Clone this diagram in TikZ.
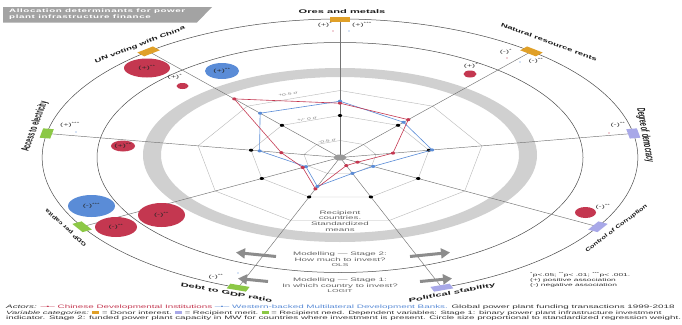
\documentclass[tikz,border=0pt]{standalone}
\usepackage{fontspec}
\setmainfont{Liberation Sans}[FakeStretch=2.0]
% bold label faces, widened to suit the direction each label runs in
\newfontfamily\lblwide{Liberation Sans}[FakeStretch=2.1]
\newfontfamily\lblmid{Liberation Sans}[FakeStretch=1.8]
\newfontfamily\lblnarrow{Liberation Sans}[FakeStretch=1.4]
\newfontfamily\lblplain{Liberation Sans}
\newfontfamily\titlefont{Liberation Sans}[FakeStretch=2.0, LetterSpace=12]
\usetikzlibrary{arrows.meta,shapes.geometric}

\definecolor{cred}{HTML}{C43750}
\definecolor{cblue}{HTML}{5A8CD7}
\definecolor{cgold}{HTML}{E0A028}
\definecolor{cmerit}{HTML}{A8A8E8}
\definecolor{cneed}{HTML}{8CC846}
\definecolor{ringfill}{HTML}{D0D0D0}
\definecolor{titlegray}{HTML}{A3A3A3}
\definecolor{txt}{HTML}{333333}

\tikzset{
  ringline/.style={draw=black!70, line width=0.5pt},
  spoke/.style={draw=black!55, line width=0.45pt},
  gridline/.style={draw=black!28, line width=0.4pt},
  sig/.style={font=\fontsize{4.6}{5}\selectfont, text=txt, inner sep=0},
  bub/.style={ellipse, inner sep=0, font=\fontsize{4.6}{5}\selectfont, text=black!85},
  axlabel/.style={inner sep=0, text=black!90},
  axsize/.style={font=#1\bfseries\fontsize{5.3}{6}\selectfont},
  marker/.style={rectangle, minimum width=9.5pt, minimum height=5pt, inner sep=0, transform shape},
  centertext/.style={align=center, inner sep=0, text=black!62, font=\fontsize{4.9}{5.6}\selectfont},
  stagearrow/.style={draw=black!45, line width=3pt, -{Triangle[length=9pt, width=10pt]}},
  sigma/.style={font=\fontsize{3.4}{4}\selectfont, text=black!50, inner sep=0},
  caption/.style={anchor=west, inner sep=0, text=txt, font=\fontsize{#1}{5.5}\selectfont},
}

\begin{document}
\begin{tikzpicture}[x=1pt,y=-1pt]
\useasboundingbox[fill=white] (0,0) rectangle (682,324);

% title banner
\fill[titlegray] (3,7) -- (212,7) -- (197,22.5) -- (3,22.5) -- cycle;
\node[anchor=north west, text=white, align=left, inner sep=0,
      font=\titlefont\bfseries\fontsize{4.9}{5.6}\selectfont] (title) at (9,9.2)
      {Allocation determinants for power\\plant infrastructure finance};

% inner band boundary
\draw[ringline] (340,157.5) ellipse [x radius=243pt, y radius=115pt];

% grey ring
\fill[ringfill, even odd rule] (340,155) ellipse [x radius=197pt, y radius=87pt]
                               (340,155) ellipse [x radius=179pt, y radius=78pt];

\begin{scope}[shift={(340,157.5)}, x=1pt, y=1pt, xscale=2.15]
  \coordinate (c) at (0,0);
  \foreach \a/\n in {90/ores,50/nrr,10/dod,-30/coc,-70/ps,-110/debt,-150/gdp,170/acc,130/un}{
    \coordinate (p\n) at (\a:138.5);
    \coordinate (z\n) at (\a:42);
  }
  % radar grid levels (-0.5, 0, +0.5 sigma)
  \foreach \r in {17,42,67}
    \draw[gridline] (90:\r) -- (50:\r) -- (10:\r) -- (-30:\r) -- (-70:\r)
      -- (-110:\r) -- (-150:\r) -- (170:\r) -- (130:\r) -- cycle;
  % spokes
  \foreach \n in {ores,nrr,dod,coc,ps,debt,gdp,acc,un}
    \draw[spoke] (c) -- (p\n);
  % outer boundary, open at the bottom
  \draw[ringline] (-68:138.5) arc[start angle=-68, end angle=248, radius=138.5];
  % data
  \foreach \a/\rr/\rb [count=\i] in {90/54.3/56.3, 50/49.4/46, 10/25/43.5, -30/9.4/17.8,
      -70/8.6/16.9, -110/33.4/30.8, -150/20/18.3, 170/27.7/38, 130/76.5/57.8}{
    \coordinate (r\i) at (\a:\rr);
    \coordinate (b\i) at (\a:\rb);
  }
  % category markers
  \node[marker, fill=cgold] (mores) at (pores) {};
  \node[marker, fill=cgold, rotate=-40] (mnrr) at (pnrr) {};
  \node[marker, fill=cmerit, rotate=-80] (mdod) at (pdod) {};
  \node[marker, fill=cmerit, rotate=60] (mcoc) at (pcoc) {};
  \node[marker, fill=cmerit, rotate=20] (mps) at (pps) {};
  \node[marker, fill=cneed, rotate=-20] (mdebt) at (pdebt) {};
  \node[marker, fill=cneed, rotate=-60] (mgdp) at (pgdp) {};
  \node[marker, fill=cneed, rotate=80] (macc) at (pacc) {};
  \node[marker, fill=cgold, rotate=40] (mun) at (pun) {};
\end{scope}

% variable names
\node[axlabel, axsize=\lblwide] (lores) at (342,11.5) {Ores and metals};
\node[axlabel, axsize=\lblmid, rotate=-20] (lnrr) at (549,42) {Natural resource rents};
\begin{scope}[shift={(645,135)}, x=1pt, y=1pt, xscale=2.15]
  \node[axlabel, axsize=\lblplain, rotate=-85, transform shape] (ldod) at (0,0) {Degree of democracy};
\end{scope}
\node[axlabel, axsize=\lblnarrow, rotate=37] (lcoc) at (616.5,228.5) {Control of Corruption};
\node[axlabel, axsize=\lblwide, rotate=10.5] (lps) at (452,293) {Political stability};
\node[axlabel, axsize=\lblwide, rotate=-10] (ldebt) at (226.5,292.5) {Debt to GDP ratio};
\node[axlabel, axsize=\lblnarrow, rotate=138] (lgdp) at (66,228) {GDP per capita};
\begin{scope}[shift={(35,126.5)}, x=1pt, y=1pt, xscale=2.15]
  \node[axlabel, axsize=\lblplain, rotate=80, transform shape] (lacc) at (0,0) {Access to electricity};
\end{scope}
\node[axlabel, axsize=\lblmid, rotate=21] (lun) at (140,45) {UN voting with China};

% reference dots at 0 sigma
\foreach \n in {ores,nrr,dod,coc,ps,debt,gdp,acc,un}
  \fill[black] (z\n) ellipse [x radius=2.2pt, y radius=1.5pt];

% data polygons
\draw[cblue, line width=0.6pt] (b1) -- (b2) -- (b3) -- (b4) -- (b5) -- (b6) -- (b7) -- (b8) -- (b9) -- cycle;
\draw[cred, line width=0.6pt] (r1) -- (r2) -- (r3) -- (r4) -- (r5) -- (r6) -- (r7) -- (r8) -- (r9) -- cycle;
\foreach \i in {1,...,9}{
  \fill[cblue] (b\i) ellipse [x radius=2.1pt, y radius=1.5pt];
  \fill[cred] (r\i) ellipse [x radius=2.1pt, y radius=1.5pt];
}
\fill[black!40] (c) ellipse [x radius=6.5pt, y radius=3pt];

% sigma levels
\node[sigma, rotate=9.6] (s1) at (288,94) {+0.5 σ};
\node[sigma, rotate=9.6] (s2) at (307,119) {+/- 0 σ};
\node[sigma, rotate=9.6] (s3) at (327,141) {-0.5 σ};

% regression weights: Ores and metals
\node[sig] (o1) at (325,25) {(+)\textsuperscript{*}};
\node[sig] (o2) at (362,25) {(+)\textsuperscript{***}};
\fill[cred] (333,31) circle [radius=0.7pt];
\fill[cblue] (349,31) circle [radius=0.7pt];
% Natural resource rents
\node[sig] (n1) at (506,52) {(-)\textsuperscript{*}};
\fill[cred] (507,58) circle [radius=0.7pt];
\node[sig] (n2) at (536,61) {(-)\textsuperscript{**}};
\fill[cblue] (520,62) circle [radius=0.7pt];
\node[sig] (n3) at (471,66) {(+)\textsuperscript{*}};
\node[bub, fill=cred, minimum width=13pt, minimum height=7pt] (n4) at (470,74) {};
% Degree of democracy
\node[sig] (d1) at (618,125) {(-)\textsuperscript{**}};
\fill[cred] (609,133) circle [radius=0.7pt];
% Control of corruption
\node[bub, fill=cred, minimum width=21pt, minimum height=11pt] (k1) at (585.5,212.5) {};
\node[sig] (k2) at (603,207) {(-)\textsuperscript{**}};
% Debt to GDP ratio
\node[sig] (e1) at (216,277) {(-)\textsuperscript{**}};
\fill[cblue] (238,273) circle [radius=0.7pt];
% GDP per capita
\node[bub, fill=cblue, minimum width=47pt, minimum height=22pt] (g1) at (91.5,206) {(-)\textsuperscript{***}};
\node[bub, fill=cred, minimum width=42pt, minimum height=20pt] (g2) at (116,227) {(-)\textsuperscript{**}};
\node[bub, fill=cred, minimum width=47pt, minimum height=24pt] (g3) at (161.5,215) {(-)\textsuperscript{**}};
% Access to electricity
\node[sig] (a1) at (70,125) {(+)\textsuperscript{***}};
\fill[cblue] (76,132) circle [radius=0.7pt];
\node[bub, fill=cred, minimum width=24pt, minimum height=11pt] (a2) at (123,146) {(+)\textsuperscript{**}};
% UN voting with China
\node[bub, fill=cred, minimum width=46pt, minimum height=19pt] (u1) at (147,68) {(+)\textsuperscript{**}};
\node[sig] (u2) at (175,77) {(+)\textsuperscript{*}};
\node[bub, fill=cred, minimum width=12pt, minimum height=6pt] (u3) at (182.5,86) {};
\node[bub, fill=cblue, minimum width=34pt, minimum height=16pt] (u4) at (222,71) {(+)\textsuperscript{**}};

% centre texts
\node[centertext] (recip) at (340,221) {Recipient\\countries.\\Standardized\\means};
\node[centertext] (stage2) at (340,259.5) {Modelling — Stage 2:\\How much to invest?\\{\fontsize{4.2}{5}\selectfont OLS}};
\node[centertext] (stage1) at (340,285.5) {Modelling — Stage 1:\\In which country to invest?\\{\fontsize{4.2}{5}\selectfont LOGIT}};

% stage arrows
\coordinate (s2La) at (276,256.5); \coordinate (s2Lb) at (236,252.5);
\coordinate (s2Ra) at (410,256.5); \coordinate (s2Rb) at (450,252.5);
\coordinate (s1La) at (268,281.5); \coordinate (s1Lb) at (238,278.5);
\coordinate (s1Ra) at (420,281.5); \coordinate (s1Rb) at (452,278.5);
\draw[stagearrow] (s2La) -- (s2Lb);
\draw[stagearrow] (s2Ra) -- (s2Rb);
\draw[stagearrow] (s1La) -- (s1Lb);
\draw[stagearrow] (s1Ra) -- (s1Rb);

% significance legend
\node[anchor=north west, align=left, inner sep=0, text=txt, font=\fontsize{4.2}{5}\selectfont] (legend) at (530,272.5)
  {\textsuperscript{*}p<.05; \textsuperscript{**}p< .01; \textsuperscript{***}p< .001.\\(+) positive association\\(-) negative association};

% caption
\node[caption=4.93] (cap1) at (6,307.3) {{\itshape Actors:} \textcolor{cred}{–•– Chinese Developmental Institutions} \textcolor{cblue}{–•– Western-backed Multilateral Development Banks.} Global power plant funding transactions 1999-2018};
\node[caption=4.7] (cap2) at (6,313) {{\itshape Variable categories:} \textcolor{cgold}{\rule{7pt}{3.5pt}} = Donor interest. \textcolor{cmerit}{\rule{7pt}{3.5pt}} = Recipient merit. \textcolor{cneed}{\rule{7pt}{3.5pt}} = Recipient need. Dependent variables: Stage 1: binary power plant infrastructure investment};
\node[caption=4.9] (cap3) at (6,318.5) {indicator. Stage 2: funded power plant capacity in MW for countries where investment is present. Circle size proportional to standardized regression weight.};
\end{tikzpicture}
\end{document}
